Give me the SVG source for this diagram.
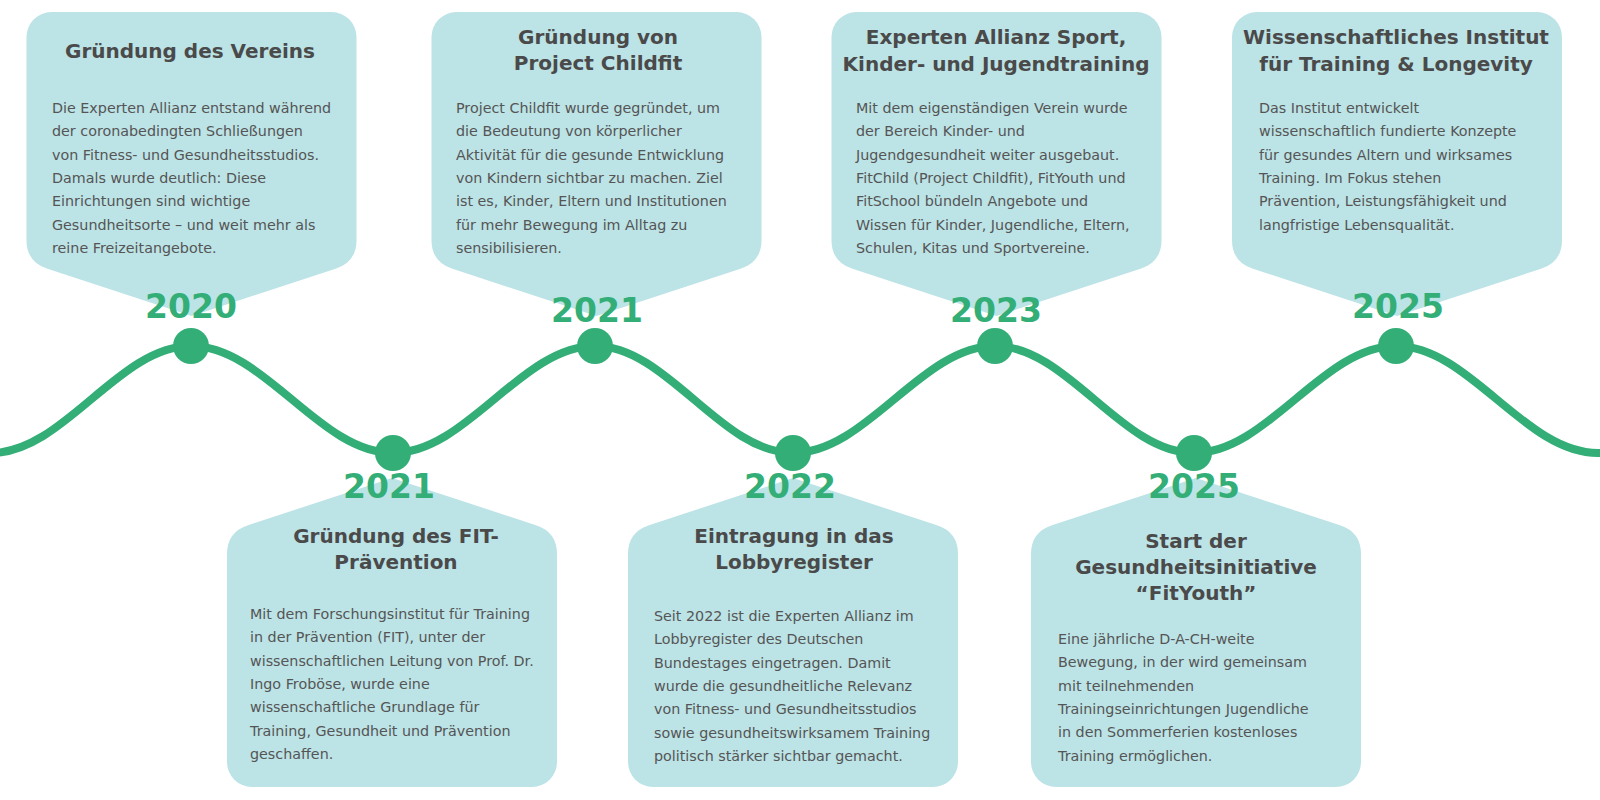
<svg xmlns="http://www.w3.org/2000/svg" width="1600" height="800" viewBox="0 0 1600 800">
<style>
.card{fill:#bce3e6}
.title{font-family:"DejaVu Sans",sans-serif;font-weight:bold;font-size:20px;fill:#4a4a4a;text-anchor:middle}
.body{font-family:"DejaVu Sans",sans-serif;font-size:14.3px;fill:#555555}
.year{font-family:"DejaVu Sans",sans-serif;font-weight:bold;font-size:33px;fill:#33ae76;text-anchor:middle}
.dot{fill:#33ae76}
.wave{fill:none;stroke:#33ae76;stroke-width:8}
</style>
<rect width="1600" height="800" fill="#ffffff"/>

<g id="connectors">
<path class="wave" d="M -20,453 L -9,453 C 63.8,453 118.2,346 191,346 C 264.6,346 319.4,453 393,453 C 466.6,453 521.4,346 595,346 C 667.1,346 720.9,453 793,453 C 866.6,453 921.4,346 995,346 C 1067.5,346 1121.5,453 1194,453 C 1267.6,453 1322.4,346 1396,346 C 1469.6,346 1524.4,453 1598,453 L 1620,453"/>
</g>

<g id="node-2020">
<path class="card" d="M 26.5,37 A 25 25 0 0 1 51.5,12 H 331.5 A 25 25 0 0 1 356.5,37 V 240 Q 356.5,262 335.5,268.8 L 191.5,316 L 47.5,268.8 Q 26.5,262 26.5,240 Z"/>
<text class="title" x="190" y="58">Gründung des Vereins</text>
<text class="body" x="52" y="113">Die Experten Allianz entstand während</text>
<text class="body" x="52" y="136.3">der coronabedingten Schließungen</text>
<text class="body" x="52" y="159.6">von Fitness- und Gesundheitsstudios.</text>
<text class="body" x="52" y="182.9">Damals wurde deutlich: Diese</text>
<text class="body" x="52" y="206.2">Einrichtungen sind wichtige</text>
<text class="body" x="52" y="229.5">Gesundheitsorte – und weit mehr als</text>
<text class="body" x="52" y="252.8">reine Freizeitangebote.</text>
<text class="year" x="191" y="318">2020</text>
<circle class="dot" cx="191" cy="346" r="18"/>
</g>

<g id="node-2021-childfit">
<path class="card" d="M 431.5,37 A 25 25 0 0 1 456.5,12 H 736.5 A 25 25 0 0 1 761.5,37 V 240 Q 761.5,262 740.5,268.8 L 596.5,316 L 452.5,268.8 Q 431.5,262 431.5,240 Z"/>
<text class="title" x="598" y="44">Gründung von</text>
<text class="title" x="598" y="70">Project Childfit</text>
<text class="body" x="456" y="113">Project Childfit wurde gegründet, um</text>
<text class="body" x="456" y="136.3">die Bedeutung von körperlicher</text>
<text class="body" x="456" y="159.6">Aktivität für die gesunde Entwicklung</text>
<text class="body" x="456" y="182.9">von Kindern sichtbar zu machen. Ziel</text>
<text class="body" x="456" y="206.2">ist es, Kinder, Eltern und Institutionen</text>
<text class="body" x="456" y="229.5">für mehr Bewegung im Alltag zu</text>
<text class="body" x="456" y="252.8">sensibilisieren.</text>
<text class="year" x="597" y="322">2021</text>
<circle class="dot" cx="595" cy="346" r="18"/>
</g>

<g id="node-2023">
<path class="card" d="M 831.5,37 A 25 25 0 0 1 856.5,12 H 1136.5 A 25 25 0 0 1 1161.5,37 V 240 Q 1161.5,262 1140.5,268.8 L 996.5,316 L 852.5,268.8 Q 831.5,262 831.5,240 Z"/>
<text class="title" x="996" y="44">Experten Allianz Sport,</text>
<text class="title" x="996" y="71">Kinder- und Jugendtraining</text>
<text class="body" x="856" y="113">Mit dem eigenständigen Verein wurde</text>
<text class="body" x="856" y="136.3">der Bereich Kinder- und</text>
<text class="body" x="856" y="159.6">Jugendgesundheit weiter ausgebaut.</text>
<text class="body" x="856" y="182.9">FitChild (Project Childfit), FitYouth und</text>
<text class="body" x="856" y="206.2">FitSchool bündeln Angebote und</text>
<text class="body" x="856" y="229.5">Wissen für Kinder, Jugendliche, Eltern,</text>
<text class="body" x="856" y="252.8">Schulen, Kitas und Sportvereine.</text>
<text class="year" x="996" y="322">2023</text>
<circle class="dot" cx="995" cy="346" r="18"/>
</g>

<g id="node-2025-institut">
<path class="card" d="M 1232,37 A 25 25 0 0 1 1257,12 H 1537 A 25 25 0 0 1 1562,37 V 240 Q 1562,262 1541,268.8 L 1397,316 L 1253,268.8 Q 1232,262 1232,240 Z"/>
<text class="title" x="1396" y="44">Wissenschaftliches Institut</text>
<text class="title" x="1396" y="71">für Training &amp; Longevity</text>
<text class="body" x="1259" y="113">Das Institut entwickelt</text>
<text class="body" x="1259" y="136.3">wissenschaftlich fundierte Konzepte</text>
<text class="body" x="1259" y="159.6">für gesundes Altern und wirksames</text>
<text class="body" x="1259" y="182.9">Training. Im Fokus stehen</text>
<text class="body" x="1259" y="206.2">Prävention, Leistungsfähigkeit und</text>
<text class="body" x="1259" y="229.5">langfristige Lebensqualität.</text>
<text class="year" x="1398" y="318">2025</text>
<circle class="dot" cx="1396" cy="346" r="18"/>
</g>

<g id="node-2021-fit">
<path class="card" d="M 392,478 L 536,525.2 Q 557,532 557,554 V 762 A 25 25 0 0 1 532,787 H 252 A 25 25 0 0 1 227,762 V 554 Q 227,532 248,525.2 Z"/>
<text class="year" x="389" y="498">2021</text>
<text class="title" x="396" y="543">Gründung des FIT-</text>
<text class="title" x="396" y="569">Prävention</text>
<text class="body" x="250" y="619">Mit dem Forschungsinstitut für Training</text>
<text class="body" x="250" y="642.3">in der Prävention (FIT), unter der</text>
<text class="body" x="250" y="665.6">wissenschaftlichen Leitung von Prof. Dr.</text>
<text class="body" x="250" y="688.9">Ingo Froböse, wurde eine</text>
<text class="body" x="250" y="712.2">wissenschaftliche Grundlage für</text>
<text class="body" x="250" y="735.5">Training, Gesundheit und Prävention</text>
<text class="body" x="250" y="758.8">geschaffen.</text>
<circle class="dot" cx="393" cy="453" r="18"/>
</g>

<g id="node-2022">
<path class="card" d="M 793,478 L 937,525.2 Q 958,532 958,554 V 762 A 25 25 0 0 1 933,787 H 653 A 25 25 0 0 1 628,762 V 554 Q 628,532 649,525.2 Z"/>
<text class="year" x="790" y="498">2022</text>
<text class="title" x="794" y="543">Eintragung in das</text>
<text class="title" x="794" y="569">Lobbyregister</text>
<text class="body" x="654" y="621">Seit 2022 ist die Experten Allianz im</text>
<text class="body" x="654" y="644.3">Lobbyregister des Deutschen</text>
<text class="body" x="654" y="667.6">Bundestages eingetragen. Damit</text>
<text class="body" x="654" y="690.9">wurde die gesundheitliche Relevanz</text>
<text class="body" x="654" y="714.2">von Fitness- und Gesundheitsstudios</text>
<text class="body" x="654" y="737.5">sowie gesundheitswirksamem Training</text>
<text class="body" x="654" y="760.8">politisch stärker sichtbar gemacht.</text>
<circle class="dot" cx="793" cy="453" r="18"/>
</g>

<g id="node-2025-fityouth">
<path class="card" d="M 1196,478 L 1340,525.2 Q 1361,532 1361,554 V 762 A 25 25 0 0 1 1336,787 H 1056 A 25 25 0 0 1 1031,762 V 554 Q 1031,532 1052,525.2 Z"/>
<text class="year" x="1194" y="498">2025</text>
<text class="title" x="1196" y="548">Start der</text>
<text class="title" x="1196" y="574">Gesundheitsinitiative</text>
<text class="title" x="1196" y="600">“FitYouth”</text>
<text class="body" x="1058" y="644">Eine jährliche D-A-CH-weite</text>
<text class="body" x="1058" y="667.3">Bewegung, in der wird gemeinsam</text>
<text class="body" x="1058" y="690.6">mit teilnehmenden</text>
<text class="body" x="1058" y="713.9">Trainingseinrichtungen Jugendliche</text>
<text class="body" x="1058" y="737.2">in den Sommerferien kostenloses</text>
<text class="body" x="1058" y="760.5">Training ermöglichen.</text>
<circle class="dot" cx="1194" cy="453" r="18"/>
</g>
</svg>
